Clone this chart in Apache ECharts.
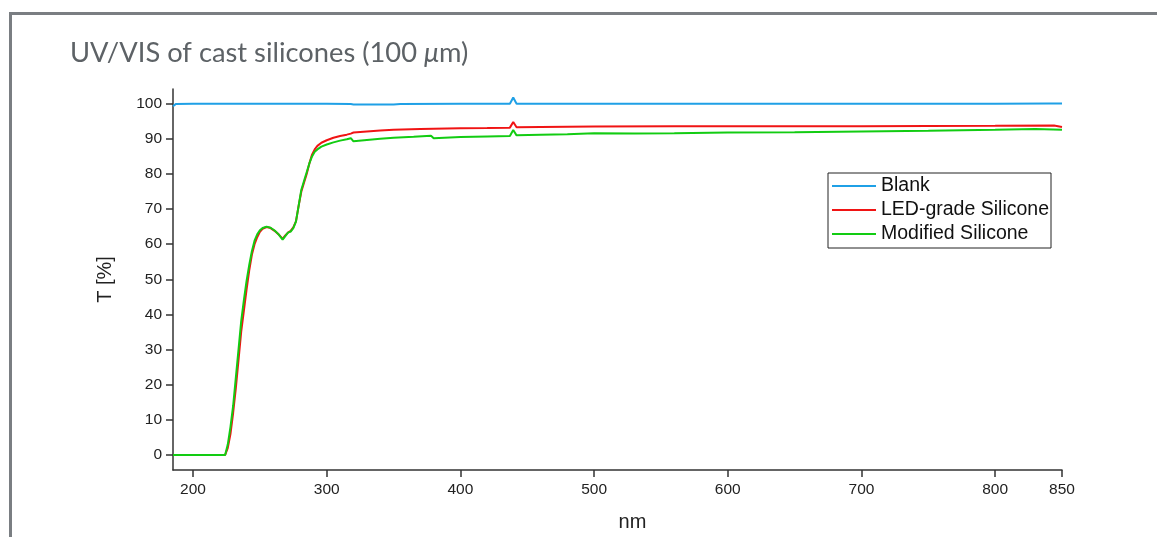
<!DOCTYPE html>
<html>
<head>
<meta charset="utf-8">
<style>
  html, body { margin: 0; padding: 0; background: #fff; }
  #main { width: 1157px; height: 537px; }
</style>
<script src="https://cdn.jsdelivr.net/npm/echarts@6/dist/echarts.min.js"></script>
</head>
<body>
<div id="main"></div>
<script>
var xTicks = [200, 300, 400, 500, 600, 700, 800, 850];
var yTicks = [0, 10, 20, 30, 40, 50, 60, 70, 80, 90, 100];

var nmBlank = [185, 187, 200, 250, 300, 318, 320, 350, 355, 400, 437, 439.5, 442, 500, 600, 700, 800, 840, 850];
var tBlank = [99.3, 99.9, 100, 100, 100, 99.9, 99.8, 99.8, 99.9, 100, 100, 101.8, 100, 100, 100, 100, 100, 100.1, 100.1];

var nmLed = [185, 200, 215, 224, 226, 228, 230, 232, 234, 236, 238, 240, 242, 244, 246, 248, 250, 252, 255, 258, 261, 264, 267, 269, 271, 273, 275, 277, 279, 281, 283, 285, 287, 289, 291, 293, 296, 300, 305, 310, 315, 318, 320, 330, 340, 350, 370, 380, 400, 420, 437, 439.5, 442, 460, 500, 560, 600, 700, 800, 844, 850];
var tLed = [0, 0, 0, 0, 2, 6, 12, 19, 27, 35, 41, 47, 52.5, 57, 60, 62, 63.5, 64.4, 64.9, 64.6, 63.8, 62.8, 61.5, 62.5, 63.3, 63.8, 64.8, 66.5, 71, 75, 77.5, 80, 83, 85.5, 87, 88, 88.9, 89.6, 90.3, 90.8, 91.2, 91.5, 91.8, 92.1, 92.4, 92.6, 92.8, 92.9, 93.0, 93.1, 93.2, 94.8, 93.3, 93.4, 93.5, 93.6, 93.6, 93.6, 93.7, 93.8, 93.4];

var nmMod = [185, 200, 215, 224, 226, 228, 230, 232, 234, 236, 238, 240, 242, 244, 246, 248, 250, 252, 255, 258, 261, 264, 267, 269, 271, 273, 275, 277, 279, 281, 283, 285, 287, 289, 291, 293, 296, 300, 305, 310, 315, 318, 320, 330, 340, 350, 365, 378, 380, 400, 420, 437, 439.5, 442, 460, 480, 500, 530, 560, 600, 650, 700, 750, 800, 830, 850];
var tMod = [0, 0, 0, 0, 3, 8, 14, 22, 30, 38, 44, 49.5, 54, 58, 61, 62.8, 64, 64.6, 65, 64.7, 63.9, 62.8, 61.3, 62.3, 63.3, 63.6, 64.6, 66.5, 71, 75.5, 78, 80.5, 83, 85, 86.3, 87, 87.8, 88.4, 89, 89.5, 89.9, 90.2, 89.3, 89.7, 90.0, 90.3, 90.6, 90.9, 90.2, 90.5, 90.7, 90.8, 92.5, 91.0, 91.2, 91.3, 91.6, 91.5, 91.6, 91.8, 91.9, 92.1, 92.3, 92.6, 92.8, 92.6];

function pairs(xs, ys) {
    var out = [];
    for (var i = 0; i < xs.length; i++) out.push([xs[i], ys[i]]);
    return out;
}

var chartDom = document.getElementById('main');
var myChart = echarts.init(chartDom);
var axisFont = 'Liberation Sans, Arial, sans-serif';

function lineSeries(name, color, data) {
    return {
        name: name,
        type: 'line',
        data: data,
        showSymbol: false,
        symbol: 'none',
        lineStyle: { color: color, width: 2 },
        itemStyle: { color: color },
        z: 3
    };
}

var option = {
    animation: false,
    backgroundColor: '#fff',
    graphic: [{
        type: 'rect',
        left: 8, top: 11,
        shape: { x: 0, y: 0, width: 1300, height: 700 },
        style: { fill: 'none', stroke: '#7a7e82', lineWidth: 3 },
        silent: true
    }],
    title: {
        text: '{a|UV/VIS of cast silicones (100 }{mu|\u03bc}{a|m)}',
        left: 65, top: 35,
        textStyle: {
            rich: {
                a: { fontFamily: 'Lato, sans-serif', fontSize: 27.3, fontWeight: 'normal', color: '#5d6266' },
                mu: { fontFamily: 'Lato, sans-serif', fontSize: 27.3, fontWeight: 'normal', color: '#5d6266', fontStyle: 'italic' }
            }
        }
    },
    legend: {
        orient: 'vertical',
        left: 828, top: 173,
        icon: 'rect',
        itemWidth: 44, itemHeight: 2,
        itemGap: 4,
        padding: [3, 2, 4, 4],
        borderColor: '#222', borderWidth: 1,
        textStyle: { fontFamily: axisFont, fontSize: 19.5, color: '#111', lineHeight: 20 },
        data: ['Blank', 'LED-grade Silicone', 'Modified Silicone']
    },
    grid: { left: 173, right: 95, top: 89, bottom: 66 },
    xAxis: {
        type: 'value',
        min: 185, max: 850,
        name: 'nm',
        nameLocation: 'middle',
        nameGap: 42,
        nameTextStyle: { fontFamily: axisFont, fontSize: 20, color: '#222', padding: [0, 0, 0, 30] },
        axisLine: { show: true, onZero: false, lineStyle: { color: '#333', width: 1.5 } },
        axisTick: { show: true, length: 7, lineStyle: { color: '#333', width: 1.5 }, customValues: xTicks },
        axisLabel: { fontFamily: axisFont, fontSize: 15.5, color: '#222', margin: 12, customValues: xTicks },
        splitLine: { show: false }
    },
    yAxis: {
        type: 'value',
        min: -4.3, max: 104.2,
        name: 'T [%]',
        nameLocation: 'middle',
        nameGap: 58,
        nameTextStyle: { fontFamily: axisFont, fontSize: 20, color: '#222' },
        axisLine: { show: true, onZero: false, lineStyle: { color: '#333', width: 1.5 } },
        axisTick: { show: true, length: 7, lineStyle: { color: '#333', width: 1.5 }, customValues: yTicks },
        axisLabel: { fontFamily: axisFont, fontSize: 15.5, color: '#222', margin: 11, customValues: yTicks },
        splitLine: { show: false }
    },
    series: [
        lineSeries('Blank', '#1fa0e6', pairs(nmBlank, tBlank)),
        lineSeries('LED-grade Silicone', '#f01414', pairs(nmLed, tLed)),
        lineSeries('Modified Silicone', '#12cc12', pairs(nmMod, tMod))
    ]
};

option && myChart.setOption(option);
</script>
</body>
</html>
